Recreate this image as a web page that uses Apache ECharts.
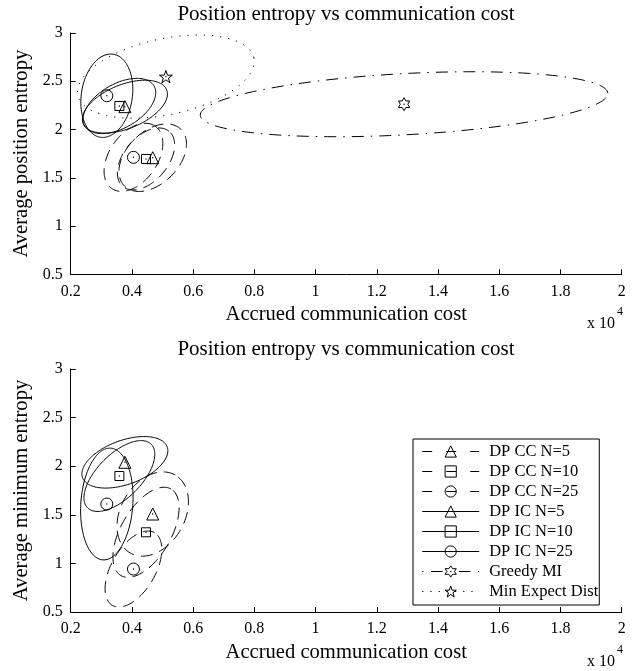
<!DOCTYPE html>
<html>
<head>
<meta charset="utf-8">
<script src="https://cdn.jsdelivr.net/npm/echarts@6/dist/echarts.min.js"></script>
<style>
html,body{margin:0;padding:0;background:#fff;}
#chart{width:641px;height:671px;}
</style>
</head>
<body>
<div id="chart"></div>
<script>
// ---- data ----
const seriesNames = ['DP CC N=5','DP CC N=10','DP CC N=25','DP IC N=5','DP IC N=10','DP IC N=25','Greedy MI','Min Expect Dist'];
// accrued communication cost (x 10^4)
const costX = [0.468, 0.446, 0.405, 0.377, 0.359, 0.318, 1.289, 0.511];
// top plot: average position entropy
const posEntropy = [1.708, 1.695, 1.712, 2.237, 2.244, 2.350, 2.262, 2.548];
// bottom plot: average minimum entropy (Greedy MI / Min Expect Dist not shown)
const minEntropy = [1.508, 1.320, 0.942, 2.040, 1.899, 1.611, null, null];
// spread ellipses: two conjugate semi-axes in data units [ux, uy, vx, vy]
const posSpread = [
  [0.09243, 0.2931, -0.06007, 0.1905],
  [0.07562, 0.2858, -0.05507, 0.1465],
  [0.07124, 0.3226, -0.06425, 0.1427],
  [0.1363, 0.1747, -0.02693, 0.2114],
  [0.1132, 0.2073, -0.03595, 0.1974],
  [0.02077, 0.4302, -0.08237, 0.03998],
  [0.6657, 0.1144, -0.0054, 0.3166],
  [0.2877, 0.1939, -0.0258, 0.3851]
];
const minSpread = [
  [0.07353, 0.4009, -0.09056, 0.1646],
  [0.0817, 0.4455, -0.07075, 0.1286],
  [0.06863, 0.3742, -0.06225, 0.1132],
  [0.1382, 0.1583, -0.02458, 0.2127],
  [0.104, 0.3274, -0.05084, 0.1601],
  [0.01277, 0.5747, -0.08477, 0.01867],
  null,
  null
];
const xTicks = {min: 0.2, max: 2, interval: 0.2};
const yTicks = {min: 0.5, max: 3, interval: 0.5};

// ---- styles ----
const FONT = 'Liberation Serif';
const HEX = 'path://M50,0 L64.43,25 L93.3,25 L78.87,50 L93.3,75 L64.43,75 L50,100 L35.57,75 L6.7,75 L21.13,50 L6.7,25 L35.57,25 Z';
const PENT = 'path://M50,0 L61.8,34.5 L97.6,34.5 L68.8,55.9 L79.4,90.5 L50,69.1 L20.6,90.5 L31.2,55.9 L2.4,34.5 L38.2,34.5 Z';
const symbols = ['triangle','rect','circle','triangle','rect','circle',HEX,PENT];
const symbolSizes = [12, 9, 12, 12, 9, 12, 13, 13];
const DASH = [12, 7], DASHDOT = [12, 7, 1.5, 7], DOT = [1.2, 7];
const dashes = [DASH, DASH, DASH, 'solid', 'solid', 'solid', DASHDOT, DOT];
const legendDashes = [[10, 14], [10, 14], [10, 14], 'solid', 'solid', 'solid', [1.3, 7.5, 11.6, 7.5], [1.2, 7]];

const markerSeries = [];
const ellipseSeries = [];
[posEntropy, minEntropy].forEach(function (yVals, g) {
  const spreads = g === 0 ? posSpread : minSpread;
  seriesNames.forEach(function (name, i) {
    if (yVals[i] == null) return;
    markerSeries.push({
      type: 'line', name: name, xAxisIndex: g, yAxisIndex: g,
      data: [[costX[i], yVals[i]]],
      symbol: symbols[i], symbolSize: symbolSizes[i], symbolKeepAspect: true,
      showSymbol: true, z: 5, silent: true,
      itemStyle: {color: 'rgba(0,0,0,0)', borderColor: '#000', borderWidth: 1},
      lineStyle: {color: '#000', width: 1, type: dashes[i]}
    });
    const dash = dashes[i] === 'solid' ? null : dashes[i];
    const s = spreads[i];
    ellipseSeries.push({
      type: 'custom', name: name, xAxisIndex: g, yAxisIndex: g, silent: true, z: 3,
      dimensions: ['x','y','ux','uy','vx','vy'],
      encode: {x: 0, y: 1},
      data: [[costX[i], yVals[i], s[0], s[1], s[2], s[3]]],
      renderItem: function (params, api) {
        const cx = api.value(0), cy = api.value(1);
        const c = api.coord([cx, cy]);
        const pu = api.coord([cx + api.value(2), cy + api.value(3)]);
        const pv = api.coord([cx + api.value(4), cy + api.value(5)]);
        const pts = [];
        const N = 160;
        for (let k = 0; k <= N; k++) {
          const t = 2 * Math.PI * k / N;
          pts.push([
            c[0] + (pu[0] - c[0]) * Math.cos(t) + (pv[0] - c[0]) * Math.sin(t),
            c[1] + (pu[1] - c[1]) * Math.cos(t) + (pv[1] - c[1]) * Math.sin(t)
          ]);
        }
        return {
          type: 'group',
          children: [
            {type: 'polyline', shape: {points: pts},
             style: {fill: 'none', stroke: '#000', lineWidth: 1, lineDash: dash}},
            {type: 'circle', shape: {cx: c[0], cy: c[1], r: 0.7}, style: {fill: '#000'}}
          ]
        };
      }
    });
  });
});

function fmt(v) { return String(+v.toFixed(1)); }
function xAxisCfg(g) {
  return {
    type: 'value', gridIndex: g, min: xTicks.min, max: xTicks.max, interval: xTicks.interval,
    name: 'Accrued communication cost', nameLocation: 'middle', nameGap: 30,
    nameTextStyle: {fontFamily: FONT, fontSize: 20.6, color: '#000'},
    axisLine: {onZero: false, lineStyle: {color: '#000', width: 1}},
    axisTick: {inside: true, length: 5, lineStyle: {color: '#000'}},
    axisLabel: {fontFamily: FONT, fontSize: 16, color: '#000', margin: 9, formatter: fmt},
    splitLine: {show: false}
  };
}
function yAxisCfg(g, name) {
  return {
    type: 'value', gridIndex: g, min: yTicks.min, max: yTicks.max, interval: yTicks.interval,
    name: name, nameLocation: 'middle', nameGap: 34, nameRotate: 90,
    nameTextStyle: {fontFamily: FONT, fontSize: 20.6, color: '#000'},
    axisLine: {show: true, onZero: false, lineStyle: {color: '#000', width: 1}},
    axisTick: {show: true, inside: true, length: 5, lineStyle: {color: '#000'}},
    axisLabel: {fontFamily: FONT, fontSize: 16, color: '#000', margin: 8, formatter: fmt},
    splitLine: {show: false}
  };
}
const titleStyle = {fontFamily: FONT, fontSize: 21, fontWeight: 'normal', color: '#000'};
const smallStyle = {fontFamily: FONT, fontSize: 16, fontWeight: 'normal', color: '#000'};
const supStyle = {fontFamily: FONT, fontSize: 12, fontWeight: 'normal', color: '#000'};

const legendData = seriesNames.map(function (name, i) {
  return {name: name, lineStyle: {color: '#000', width: 1, type: legendDashes[i]}};
});

const chart = echarts.init(document.getElementById('chart'), null, {renderer: 'canvas'});
chart.setOption({
  animation: false,
  backgroundColor: '#fff',
  title: [
    {text: 'Position entropy vs communication cost', left: 346, top: 3.5, textAlign: 'center', padding: 0, textStyle: titleStyle},
    {text: 'Position entropy vs communication cost', left: 346, top: 339, textAlign: 'center', padding: 0, textStyle: titleStyle},
    {text: 'x 10', left: 587, top: 315.5, padding: 0, textStyle: smallStyle},
    {text: '4', left: 617, top: 306, padding: 0, textStyle: supStyle},
    {text: 'x 10', left: 587, top: 653.5, padding: 0, textStyle: smallStyle},
    {text: '4', left: 617, top: 644, padding: 0, textStyle: supStyle}
  ],
  grid: [
    {left: 70.7, top: 33, width: 551, height: 241.3},
    {left: 70.7, top: 369, width: 551, height: 243}
  ],
  xAxis: [xAxisCfg(0), xAxisCfg(1)],
  yAxis: [yAxisCfg(0, 'Average position entropy'), yAxisCfg(1, 'Average minimum entropy')],
  legend: {
    data: legendData, orient: 'vertical', left: 413, top: 439,
    itemWidth: 57, itemHeight: 14, itemGap: 3,
    padding: [4, 1, 5, 8.7],
    borderColor: '#000', borderWidth: 1, backgroundColor: '#fff',
    selectedMode: false,
    itemStyle: {color: 'rgba(0,0,0,0)', borderColor: '#000', borderWidth: 1},
    textStyle: {fontFamily: FONT, fontSize: 16.5, color: '#000', padding: [0, 0, 0, 5]}
  },
  series: markerSeries.concat(ellipseSeries)
});
</script>
</body>
</html>
